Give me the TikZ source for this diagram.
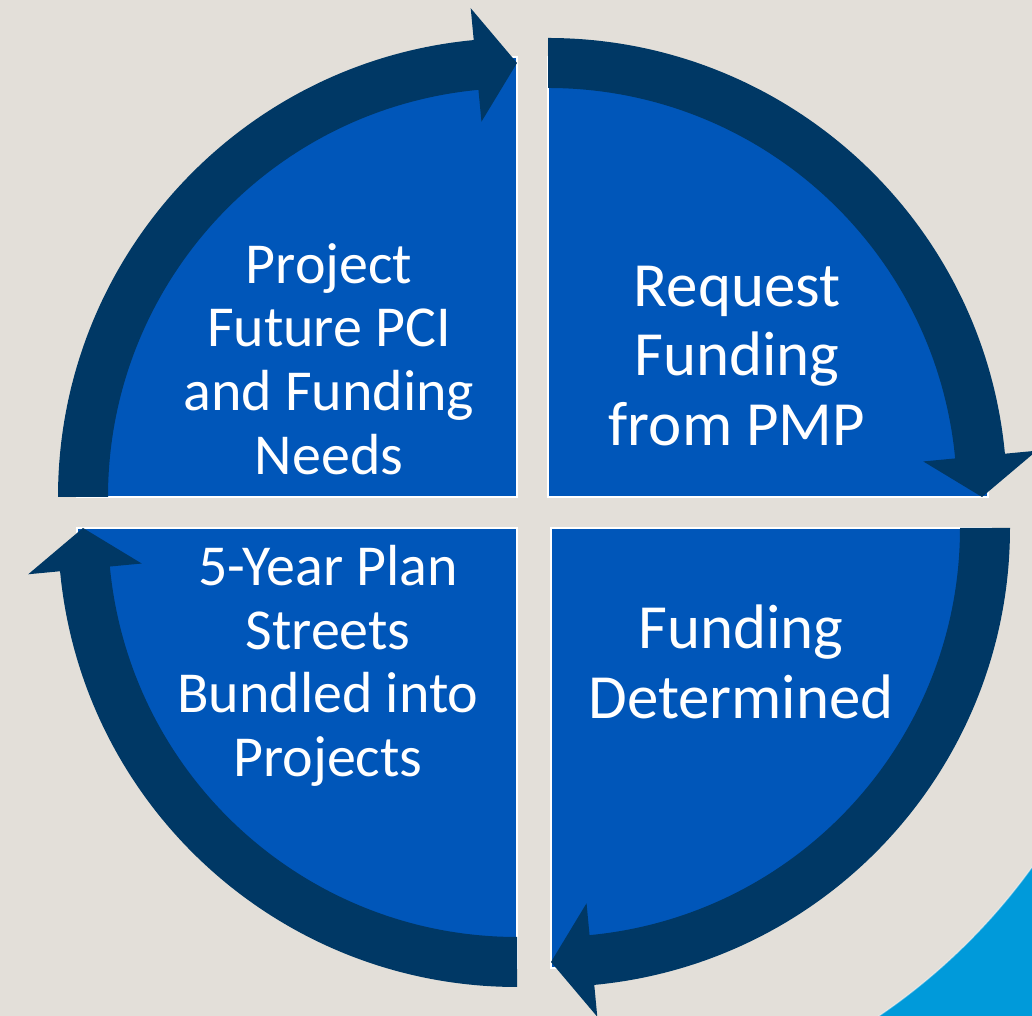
\documentclass[tikz,border=0pt]{standalone}
\usepackage{fontspec}
\setmainfont{Carlito}
\definecolor{bgbeige}{HTML}{E3DFD9}
\definecolor{secblue}{HTML}{0056B9}
\definecolor{navy}{HTML}{003865}
\definecolor{lightblue}{HTML}{009ADA}
\tikzset{
  sector/.style={fill=secblue, draw=white, line width=1.1pt, line join=miter},
  band/.style={fill=navy},
  lefttext/.style={text=white, align=center, inner sep=0pt, font=\fontsize{33}{36.2}\selectfont},
  righttext/.style={text=white, align=center, inner sep=0pt, font=\fontsize{35.8}{39.4}\selectfont},
}
\newcommand{\cyclearrow}[2]{% #1 start angle, #2 tip angle (clockwise)
  \fill[band] (#1:459) arc[start angle=#1, end angle=#2+5.41, radius=459]
    -- (#2+5.41:491) -- (#2:434) -- (#2+5.41:377) -- (#2+5.41:409)
    arc[start angle=#2+5.41, end angle=#1, radius=409] -- cycle;
}
\begin{document}
\begin{tikzpicture}[x=0.02cm, y=0.02cm]
\useasboundingbox (0,0) rectangle (1032,1016);
\clip (0,0) rectangle (1032,1016);
\fill[bgbeige] (0,0) rectangle (1032,1016);
% light blue corner
\begin{scope}
  \clip (800,0) rectangle (1032,200);
  \fill[lightblue] (800,0) rectangle (1032,200);
  \fill[bgbeige] (534,508) circle[radius=614];
  \draw[white, opacity=0.35, line width=0.8pt] (534,508) circle[radius=614];
\end{scope}
% sectors
\begin{scope}[shift={(517,519)}]
  \draw[sector] (0,0) -- (180:440) arc[start angle=180, end angle=90, radius=440] -- cycle;
  \cyclearrow{180}{90}
\end{scope}
\begin{scope}[shift={(548,519)}]
  \draw[sector] (0,0) -- (90:440) arc[start angle=90, end angle=0, radius=440] -- cycle;
  \cyclearrow{90}{0}
\end{scope}
\begin{scope}[shift={(551,488)}]
  \draw[sector] (0,0) -- (0:440) arc[start angle=0, end angle=-90, radius=440] -- cycle;
  \cyclearrow{0}{-90}
\end{scope}
\begin{scope}[shift={(517,488)}]
  \draw[sector] (0,0) -- (-90:440) arc[start angle=-90, end angle=-180, radius=440] -- cycle;
  \cyclearrow{-90}{-180}
\end{scope}
% texts
\node[lefttext] (t1) at (329,657) {Project\\Future PCI\\and Funding\\Needs};
\node[righttext] (t2) at (737,660) {Request\\Funding\\from PMP};
\node[righttext] (t3) at (741,354) {Funding\\Determined};
\node[lefttext] (t4) at (328,350) {5-Year Plan\\Streets\\Bundled into\\Projects};
\end{tikzpicture}
\end{document}
